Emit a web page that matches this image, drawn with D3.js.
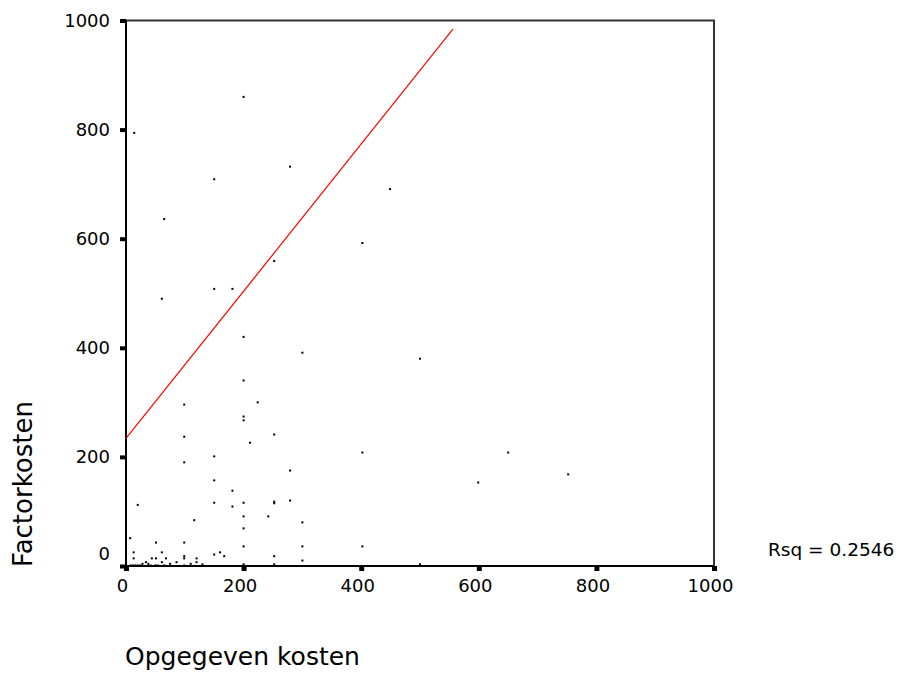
<!DOCTYPE html>
<html>
<head>
<meta charset="utf-8">
<script src="https://cdn.jsdelivr.net/npm/d3@7"></script>
<style>
  body { margin: 0; background: #fff; }
  text { font-family: "DejaVu Sans", sans-serif; fill: #000; }
</style>
</head>
<body>
<svg id="chart"></svg>
<script>
// opgegeven kosten (x) and factorkosten (y)
const opgegeven = [
  14, 200, 150, 279, 65, 449, 402, 252, 150, 181, 61, 200, 300, 500, 200,
  99, 224, 200, 200, 252, 99, 211, 99, 150, 279, 150, 181, 20, 150, 181,
  200, 252, 252, 279, 242, 200, 116, 300, 200, 7, 51, 99, 200, 300, 13,
  61, 150, 160, 167, 252, 300, 13, 44, 51, 68, 99, 99, 120, 120, 86,
  61, 34, 130, 200, 252, 402, 650, 599, 752, 402, 500,
  8, 12, 16, 20, 24, 42, 50, 54, 65, 99, 200, 28, 38, 75, 110
];
const factor = [
  794, 860, 709, 732, 636, 691, 592, 559, 508, 508, 490, 420, 391, 380, 340,
  296, 300, 274, 267, 241, 237, 226, 190, 201, 175, 157, 138, 112, 116, 109,
  116, 118, 115, 120, 91, 91, 84, 80, 69, 51, 43, 43, 36, 36, 25,
  25, 21, 25, 18, 18, 10, 14, 14, 14, 14, 18, 14, 14, 7, 7,
  7, 7, 3, 3, 3, 208, 208, 153, 168, 36, 3,
  1, 1, 1, 1, 1, 1, 1, 1, 1, 1, 1, 4, 4, 4, 4
];
// ends of the fitted line
const fitX = [0, 556];
const fitY = [234, 984];
const ticks = [0, 200, 400, 600, 800, 1000];
const rsqLabel = "Rsq = 0.2546";

const width = 900, height = 675;
const svg = d3.select("#chart").attr("width", width).attr("height", height);

const x = d3.scaleLinear().domain([0, 1000]).range([126, 714]);
const y = d3.scaleLinear().domain([0, 1000]).range([566, 20.5]);

// frame, top and right
svg.append("path")
  .attr("d", `M${x(0)},${y(1000)}H${x(1000)}V${y(0)}`)
  .attr("fill", "none").attr("stroke", "#333").attr("stroke-width", 2);

// y axis
const yAxis = svg.append("g")
  .attr("transform", `translate(${x(0)},0)`)
  .call(d3.axisLeft(y).tickValues(ticks).tickFormat(d3.format("d")).tickSize(6));
yAxis.select(".domain").remove();
yAxis.selectAll(".tick line").attr("stroke", "#000").attr("stroke-width", 4);
yAxis.selectAll(".tick text")
  .style("font-size", "18px")
  .attr("dy", (d) => d === 0 ? "-0.35em" : "0.32em")
  .attr("x", -16);

// x axis
const xAxis = svg.append("g")
  .attr("transform", `translate(0,${y(0)})`)
  .call(d3.axisBottom(x).tickValues(ticks).tickFormat(d3.format("d")).tickSize(5).tickPadding(8));
xAxis.select(".domain").remove();
xAxis.selectAll(".tick line").attr("stroke", "#000").attr("stroke-width", 5);
xAxis.selectAll(".tick text")
  .style("font-size", "18px")
  .attr("x", -4);

// axis lines
svg.append("path")
  .attr("d", `M${x(0)},${y(1000)}V${y(0)}H${x(1000)}`)
  .attr("fill", "none").attr("stroke", "#000").attr("stroke-width", 2);

// fit line
svg.append("line")
  .attr("x1", x(fitX[0])).attr("y1", y(fitY[0]))
  .attr("x2", x(fitX[1])).attr("y2", y(fitY[1]))
  .attr("stroke", "#f00").attr("stroke-width", 1.2);

// points
svg.append("g").selectAll("rect")
  .data(opgegeven.map((d, i) => [d, factor[i]]))
  .join("rect")
  .attr("x", (d) => x(d[0]) - 1)
  .attr("y", (d) => y(d[1]) - 1)
  .attr("width", 2).attr("height", 2)
  .attr("fill", "#000");

// titles
svg.append("text")
  .attr("x", 125).attr("y", 665)
  .style("font-size", "25px")
  .text("Opgegeven kosten");

svg.append("text")
  .attr("transform", "translate(32,484) rotate(-90)")
  .attr("text-anchor", "middle")
  .style("font-size", "26px")
  .text("Factorkosten");

svg.append("text")
  .attr("x", 768).attr("y", 556)
  .style("font-size", "18.5px")
  .text(rsqLabel);
</script>
</body>
</html>
